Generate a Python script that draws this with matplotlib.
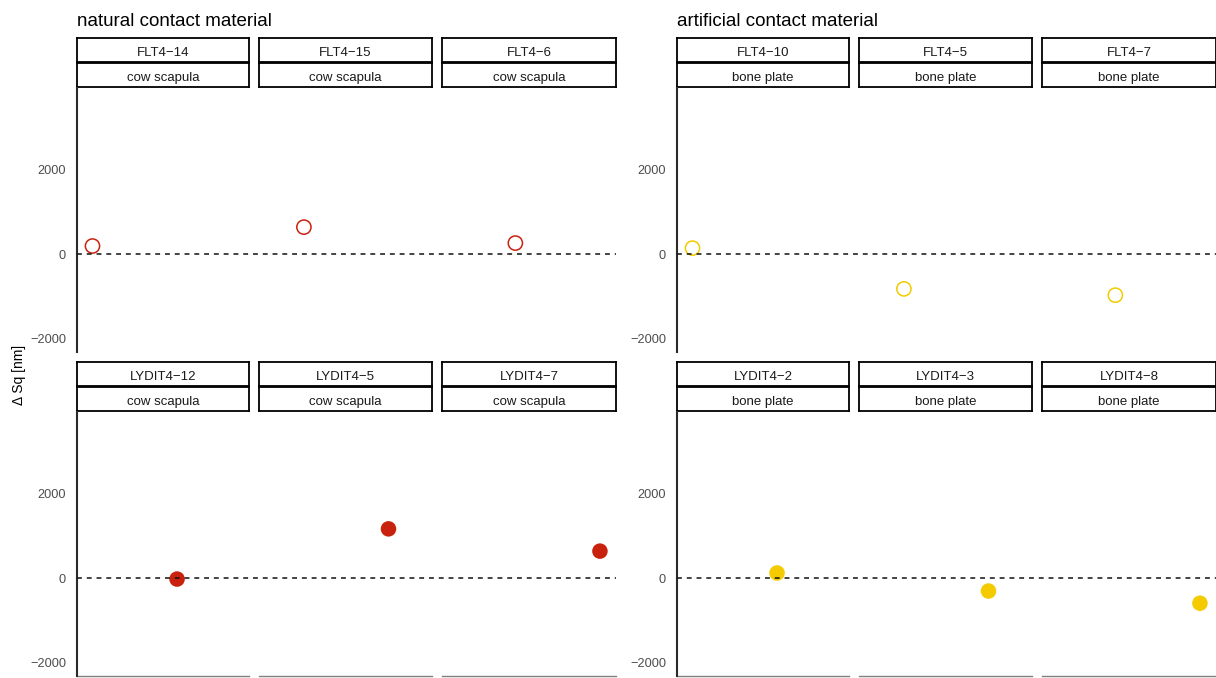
import matplotlib
matplotlib.use("Agg")
import matplotlib.pyplot as plt

plt.rcParams['font.family'] = ['Liberation Sans', 'DejaVu Sans']

# specimens and their change in surface roughness
natural_flt_ids = ["FLT4\u221214", "FLT4\u221215", "FLT4\u22126"]
natural_flt_dsq = [190, 640, 260]
natural_lydit_ids = ["LYDIT4\u221212", "LYDIT4\u22125", "LYDIT4\u22127"]
natural_lydit_dsq = [-25, 1170, 640]

artificial_flt_ids = ["FLT4\u221210", "FLT4\u22125", "FLT4\u22127"]
artificial_flt_dsq = [140, -830, -980]
artificial_lydit_ids = ["LYDIT4\u22122", "LYDIT4\u22123", "LYDIT4\u22128"]
artificial_lydit_dsq = [120, -310, -600]

# order of the runs along the shared x scale
flt_run = [1, 3.5, 6]
lydit_run = [2, 4.5, 7]

W, H = 1216, 678
fig = plt.figure(figsize=(W / 100, H / 100), dpi=100)


def px_box(x0, y0, x1, y1):
    return [x0 / W, 1 - y1 / H, (x1 - x0) / W, (y1 - y0) / H]


def strip(x0, x1, y0, y1, label):
    sax = fig.add_axes(px_box(x0, y0, x1, y1))
    sax.set_xticks([])
    sax.set_yticks([])
    for sp in sax.spines.values():
        sp.set_linewidth(1.3)
        sp.set_color("black")
    # baseline sits a little below the middle of the box
    sax.text(0.5, 1 - 17.5 / (y1 - y0), label, ha="center", va="baseline",
             fontsize=9.5, color="#1A1A1A", transform=sax.transAxes)


def panel(x0, title, rows, colour):
    width = 539
    facets = [(0, 172), (182, 355), (365, 539)]
    fig.text(x0 / W, 1 - 26 / H, title, fontsize=13.5, va="baseline", ha="left")
    for r, (ids, material, runs, vals, filled) in enumerate(rows):
        top = 38 + r * 324
        for (a, b), name in zip(facets, ids):
            strip(x0 + a, x0 + b, top, top + 24, name)
            strip(x0 + a, x0 + b, top + 25, top + 49, material)
        ax = fig.add_axes(px_box(x0, top + 50, x0 + width, top + 314))
        ax.set_xlim(0.817, 7.19)
        ax.set_ylim(-2333, 3952)
        ax.axhline(0, color="#111111", lw=1.1, ls=(0, (3.2, 3.2)), zorder=3)
        if filled:
            ax.scatter(runs, vals, s=125, color=colour, edgecolors="none", zorder=2)
        else:
            ax.scatter(runs, vals, s=105, facecolors="none", edgecolors=colour,
                       linewidths=1.1, zorder=2)
        for sp in ["top", "right", "bottom"]:
            ax.spines[sp].set_visible(False)
        ax.spines["left"].set_color("#2B2B2B")
        ax.spines["left"].set_linewidth(1.5)
        ax.set_xticks([])
        ax.set_yticks([-2000, 0, 2000])
        ax.tick_params(axis="y", length=0, pad=8, labelsize=9.2, labelcolor="#4D4D4D")
        if r == 1:
            for a, b in facets:
                ax.plot([a / width, b / width], [0, 0], transform=ax.transAxes,
                        color="#7F7F7F", lw=1.0, clip_on=False)


panel(77, "natural contact material", [
    (natural_flt_ids, "cow scapula", flt_run, natural_flt_dsq, False),
    (natural_lydit_ids, "cow scapula", lydit_run, natural_lydit_dsq, True),
], "#C8220E")

panel(677, "artificial contact material", [
    (artificial_flt_ids, "bone plate", flt_run, artificial_flt_dsq, False),
    (artificial_lydit_ids, "bone plate", lydit_run, artificial_lydit_dsq, True),
], "#F3CB00")

fig.text(19 / W, 1 - 375 / H, "\u0394 Sq [nm]", rotation=90, ha="center", va="center",
         fontsize=10, color="black")

fig.savefig("out.png", dpi=100)
